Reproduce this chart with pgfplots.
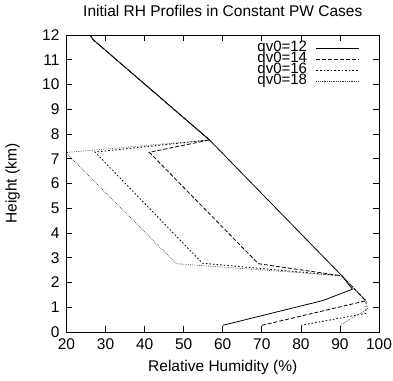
\documentclass[border=0pt]{standalone}
\usepackage{fontspec}
\setmainfont{Liberation Sans}
\usepackage{pgfplots}
\pgfplotsset{compat=1.18}
\newcommand\ff{\fontsize{15.5bp}{16bp}\selectfont}
\newcommand\lf{\fontsize{15bp}{16bp}\selectfont}
\begin{document}
\begin{tikzpicture}
\useasboundingbox (-66.5bp,-49bp) rectangle (326.5bp,332bp);
\begin{axis}[
  scale only axis, width=312.5bp, height=297bp,
  at={(0,0)}, anchor=south west,
  xmin=20, xmax=100, ymin=0, ymax=12,
  xtick={20,30,...,100}, ytick={0,1,...,12},
  tick align=inside, major tick length=6bp,
  axis line style={line width=0.9bp},
  every tick/.style={black, line width=0.7bp},
  /pgf/number format/assume math mode=true,
  tick label style={font=\ff},
  xticklabel shift=3.5bp, yticklabel shift=3.5bp,
  title={Initial RH Profiles in Constant PW Cases},
  title style={font=\ff, at={(axis description cs:0.5,1)}, anchor=center, yshift=18bp},
  xlabel={Relative Humidity (\%)},
  xlabel style={font=\ff, at={(axis description cs:0.5,0)}, anchor=center, yshift=-35bp},
  ylabel={Height (km)},
  ylabel style={font=\ff, at={(axis description cs:0,0.5)}, anchor=center, yshift=54bp},
  legend plot pos=right,
  legend cell align=right,
  legend image code/.code={\draw[#1] (0bp,0bp) -- (43bp,0bp);},
  legend style={draw=none, fill=none, font=\lf, inner sep=0pt, outer sep=0pt,
    at={(axis cs:95.1,11.68)}, anchor=north east, column sep=9bp,
    nodes={inner sep=0pt, text height=8.2bp, text depth=2.8bp}},
]
\addplot[black, line width=0.8bp] coordinates {
(60,0.27) (85.6,1.27) (93.2,1.73) (90.5,2.27) (56.6,7.76) (26.9,11.8) (26.0,12.0)};
\addlegendentry{qv0=12}
\addplot[black, line width=0.8bp, dash pattern=on 4bp off 2bp] coordinates {
(70,0.27) (96.6,1.26) (90.5,2.27) (69.1,2.76) (41.2,7.26) (56.6,7.76) (26.9,11.8) (26.0,12.0)};
\addlegendentry{qv0=14}
\addplot[black, line width=0.8bp, dash pattern=on 1.6bp off 2bp] coordinates {
(80,0.27) (96.6,0.75) (96.7,1.26) (90.5,2.27) (54.8,2.78) (27.3,7.27) (56.6,7.76) (26.9,11.8) (26.0,12.0)};
\addlegendentry{qv0=16}
\addplot[black!80, line width=0.7bp, dash pattern=on 0.6bp off 1.2bp] coordinates {
(90,0.27) (97.1,0.93) (96.7,1.26) (90.5,2.27) (48.1,2.76) (19.8,7.25) (56.6,7.76) (26.9,11.8) (26.0,12.0)};
\addlegendentry{qv0=18}
\end{axis}
\end{tikzpicture}
\end{document}
